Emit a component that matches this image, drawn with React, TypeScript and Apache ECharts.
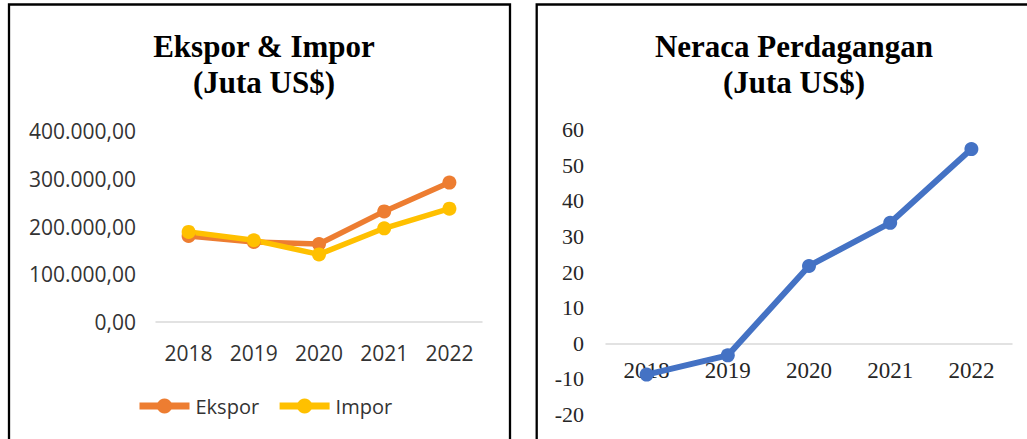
import React, { useEffect, useRef } from "react";
import * as echarts from "echarts";

// Trade figures, million US$
const years = ["2018", "2019", "2020", "2021", "2022"];
const ekspor = [180000, 167700, 163200, 231600, 292000];
const impor = [188700, 171300, 141600, 196200, 237400];
// Trade balance
const neraca = [-8.8, -3.4, 21.7, 33.8, 54.5];

const leftTitle = "Ekspor & Impor\n(Juta US$)";
const rightTitle = "Neraca Perdagangan\n(Juta US$)";

// 400000 -> "400.000,00"
function formatId(v: number): string {
  const int = Math.round(Math.abs(v)).toString().replace(/\B(?=(\d{3})+(?!\d))/g, ".");
  return (v < 0 ? "-" : "") + int + ",00";
}

const sans = "'Open Sans', 'Liberation Sans', sans-serif";
const serif = "'Liberation Serif', 'Times New Roman', serif";

// right-hand grid geometry; the category axis sits on the zero line
const rTop = 129.5;
const rHeight = 285;
const rMin = -20;
const rMax = 60;
const zeroOffset = -(rHeight * (0 - rMin)) / (rMax - rMin);

export default function App() {
  const ref = useRef<HTMLDivElement>(null);

  useEffect(() => {
    if (!ref.current) return;
    const chart = echarts.init(ref.current, null, { renderer: "svg" });
    const titleStyle = {
      fontFamily: serif,
      fontWeight: "bold" as const,
      fontSize: 31,
      lineHeight: 36,
      color: "#000",
    };
    chart.setOption({
      animation: false,
      backgroundColor: "#fff",
      title: [
        { text: leftTitle, left: 259, top: 23, textAlign: "center", textStyle: titleStyle },
        { text: rightTitle, left: 789, top: 23, textAlign: "center", textStyle: titleStyle },
      ],
      graphic: [
        {
          type: "rect",
          shape: { x: 9, y: 4.5, width: 501, height: 500 },
          style: { fill: "none", stroke: "#000", lineWidth: 2.3 },
          z: 100,
        },
        {
          type: "rect",
          shape: { x: 536.7, y: 4.5, width: 600, height: 500 },
          style: { fill: "none", stroke: "#000", lineWidth: 2.3 },
          z: 100,
        },
      ],
      legend: {
        data: ["Ekspor", "Impor"],
        left: 131,
        top: 391,
        itemWidth: 50,
        itemHeight: 19,
        itemGap: 17,
        lineStyle: { width: 7 },
        textStyle: { fontFamily: sans, fontSize: 20, color: "#333", padding: [0, 0, 0, 1] },
      },
      grid: [
        { left: 156, top: 131, width: 326, height: 191, outerBoundsMode: "none" },
        { left: 606, top: rTop, width: 406, height: rHeight, outerBoundsMode: "none" },
      ],
      xAxis: [
        {
          type: "category",
          gridIndex: 0,
          data: years,
          axisLine: { lineStyle: { color: "#D9D9D9", width: 1.5 } },
          axisTick: { show: false },
          axisLabel: { fontFamily: sans, fontSize: 21, color: "#333", margin: 20 },
        },
        {
          type: "category",
          gridIndex: 1,
          data: years,
          offset: zeroOffset,
          axisLine: { onZero: false, lineStyle: { color: "#D9D9D9", width: 1.5 } },
          axisTick: { show: false },
          axisLabel: { fontFamily: serif, fontSize: 23, color: "#262626", margin: 16 },
        },
      ],
      yAxis: [
        {
          type: "value",
          gridIndex: 0,
          min: 0,
          max: 400000,
          interval: 100000,
          axisLine: { show: false },
          axisTick: { show: false },
          splitLine: { show: false },
          axisLabel: {
            fontFamily: sans,
            fontSize: 21,
            color: "#333",
            margin: 20,
            formatter: (v: number) => formatId(v),
          },
        },
        {
          type: "value",
          gridIndex: 1,
          min: rMin,
          max: rMax,
          interval: 10,
          axisLine: { show: false },
          axisTick: { show: false },
          splitLine: { show: false },
          axisLabel: { fontFamily: serif, fontSize: 22, color: "#262626", margin: 22 },
        },
      ],
      series: [
        {
          name: "Ekspor",
          type: "line",
          xAxisIndex: 0,
          yAxisIndex: 0,
          data: ekspor,
          symbol: "circle",
          symbolSize: 14,
          itemStyle: { color: "#ED7D31" },
          lineStyle: { color: "#ED7D31", width: 5.5 },
        },
        {
          name: "Impor",
          type: "line",
          xAxisIndex: 0,
          yAxisIndex: 0,
          data: impor,
          symbol: "circle",
          symbolSize: 14,
          itemStyle: { color: "#FFC000" },
          lineStyle: { color: "#FFC000", width: 5.5 },
        },
        {
          name: "Neraca",
          type: "line",
          xAxisIndex: 1,
          yAxisIndex: 1,
          data: neraca,
          symbol: "circle",
          symbolSize: 14,
          itemStyle: { color: "#4472C4" },
          lineStyle: { color: "#4472C4", width: 6 },
        },
      ],
    });
    return () => chart.dispose();
  }, []);

  return (
    <div
      ref={ref}
      style={{ position: "fixed", left: 0, top: 0, width: 1027, height: 439 }}
    />
  );
}
